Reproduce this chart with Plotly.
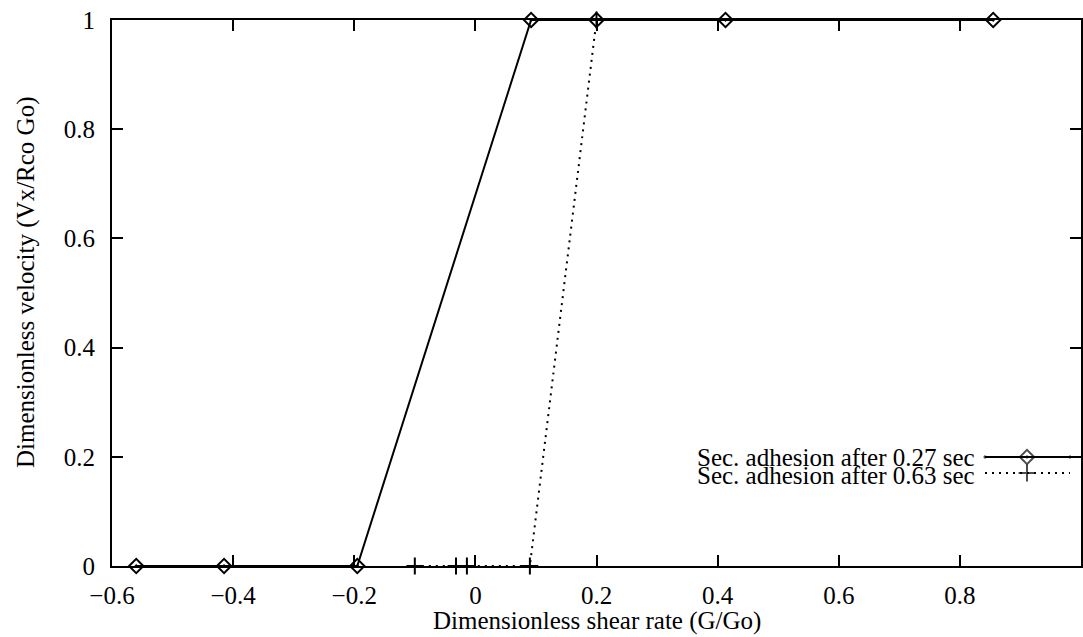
import plotly.graph_objects as go

# ---- data ----
s1_name = "Sec. adhesion after 0.27 sec"
s1_x = [-0.56, -0.415, -0.195, 0.092, 0.2, 0.413, 0.855]
s1_y = [0, 0, 0, 1, 1, 1, 1]

s2_name = "Sec. adhesion after 0.63 sec"
s2_x = [-0.1, -0.032, -0.014, 0.09, 0.2]
s2_y = [0, 0, 0, 0, 1]

x_ticks = [-0.6, -0.4, -0.2, 0, 0.2, 0.4, 0.6, 0.8, 1]
x_labels = ["\u22120.6", "\u22120.4", "\u22120.2", "0", "0.2", "0.4", "0.6", "0.8", "1"]
y_ticks = [0, 0.2, 0.4, 0.6, 0.8, 1]
y_labels = ["0", "0.2", "0.4", "0.6", "0.8", "1"]

x_title = "Dimensionless shear rate (G/Go)"
y_title = "Dimensionless velocity (Vx/Rco Go)"

# ---- style / layout constants ----
W, H = 1083, 637
L, R, T, B = 112, 2, 20, 71
FONT = "Liberation Serif"
FS = 25

fig = go.Figure()

fig.add_trace(go.Scatter(
    x=s1_x, y=s1_y, mode="lines+markers", name=s1_name,
    line=dict(color="black", width=2),
    marker=dict(symbol="diamond-open-dot", size=11, color="black",
                line=dict(color="black", width=2)),
    cliponaxis=False, showlegend=False))

fig.add_trace(go.Scatter(
    x=s2_x, y=s2_y, mode="lines+markers", name=s2_name,
    line=dict(color="black", width=2, dash="2px,5px"),
    marker=dict(symbol="cross-thin-open", size=12, color="black",
                line=dict(color="black", width=2)),
    cliponaxis=False, showlegend=False))

# ---- legend key (gnuplot style: text left, sample right), in pixel axes ----
key_rows_y = [457, 473]
key_text_right = 977
key_line = [985, 1027, 1070]
fig.add_trace(go.Scatter(
    x=key_line, y=[key_rows_y[0]] * 3, xaxis="x2", yaxis="y2",
    mode="lines+markers", showlegend=False, hoverinfo="skip",
    line=dict(color="black", width=2),
    marker=dict(symbol="diamond-open-dot", size=[0, 11, 0], color="black",
                line=dict(color="black", width=2)),
    cliponaxis=False))
fig.add_trace(go.Scatter(
    x=key_line, y=[key_rows_y[1]] * 3, xaxis="x2", yaxis="y2",
    mode="lines+markers", showlegend=False, hoverinfo="skip",
    line=dict(color="black", width=2, dash="2px,5px"),
    marker=dict(symbol="cross-thin-open", size=[0, 12, 0], color="black",
                line=dict(color="black", width=2)),
    cliponaxis=False))

annotations = [
    dict(text=s1_name, x=key_text_right, y=key_rows_y[0], xref="x2", yref="y2",
         xanchor="right", yanchor="middle", showarrow=False,
         font=dict(family=FONT, size=FS, color="black")),
    dict(text=s2_name, x=key_text_right, y=key_rows_y[1] + 2, xref="x2", yref="y2",
         xanchor="right", yanchor="middle", showarrow=False,
         font=dict(family=FONT, size=FS, color="black")),
    dict(text=x_title, x=0.5, y=0, xref="paper", yref="paper",
         xanchor="center", yanchor="middle", yshift=-55, showarrow=False,
         font=dict(family=FONT, size=FS, color="black")),
    dict(text=y_title, x=0, y=0.5, xref="paper", yref="paper",
         xanchor="center", yanchor="middle", xshift=-86, yshift=10, textangle=-90,
         showarrow=False, font=dict(family=FONT, size=FS, color="black")),
]

axis_common = dict(
    showline=True, linecolor="black", linewidth=2, mirror="ticks",
    ticks="inside", ticklen=11, tickwidth=2, tickcolor="black",
    showgrid=False, zeroline=False, automargin=False,
    tickfont=dict(family=FONT, size=FS, color="black"),
)

fig.update_layout(
    width=W, height=H,
    margin=dict(l=L, r=R, t=T, b=B, pad=0, autoexpand=False),
    paper_bgcolor="white", plot_bgcolor="white",
    font=dict(family=FONT, size=FS, color="black"),
    xaxis=dict(range=[-0.6, 1], tickmode="array", tickvals=x_ticks,
               ticktext=x_labels, ticklabelstandoff=6, **axis_common),
    yaxis=dict(range=[0, 1], tickmode="array", tickvals=y_ticks,
               ticktext=y_labels, ticklabelstandoff=10, **axis_common),
    xaxis2=dict(range=[L, W - R], overlaying="x", visible=False, fixedrange=True),
    yaxis2=dict(range=[H - B, T], overlaying="y", visible=False, fixedrange=True),
    annotations=annotations,
    showlegend=False,
)

fig.write_html(
    "out.html",
    config={"displayModeBar": False},
    post_script="document.body.style.margin='0';document.body.style.overflow='hidden';",
)
